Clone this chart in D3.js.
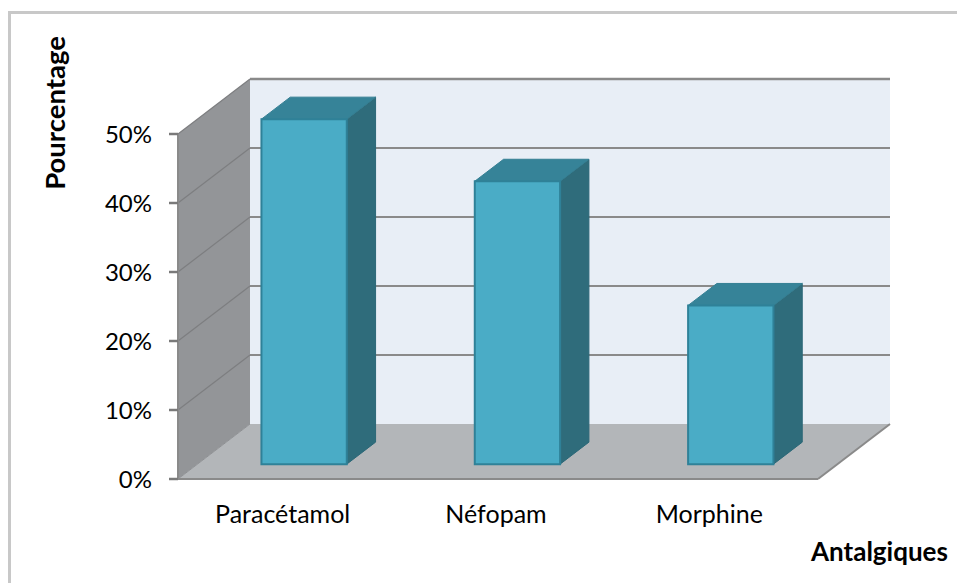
<!DOCTYPE html>
<html>
<head>
<meta charset="utf-8">
<script src="https://cdn.jsdelivr.net/npm/d3@7"></script>
<style>
  html, body { margin: 0; padding: 0; background: #fff; }
  svg { display: block; }
  text { font-family: Lato, "Open Sans", sans-serif; fill: #000; }
</style>
</head>
<body>
<svg id="chart" width="957" height="583"></svg>
<script>
// Analgesics used, share of patients (%)
const categories = ["Paracétamol", "Néfopam", "Morphine"];
const values = [50, 41, 23];
const yTicks = [0, 10, 20, 30, 40, 50];
const xTitle = "Antalgiques";
const yTitle = "Pourcentage";

const svg = d3.select("#chart");

// front plane of the 3D box and the depth offset of the back plane
const front = { left: 178, right: 818, bottom: 479, top: 134 };
const DX = 72, DY = 55;
const barZ0 = 0.27, barZ1 = 0.67;

const x = d3.scaleBand()
  .domain(categories)
  .range([front.left, front.right])
  .paddingInner(0.6)
  .paddingOuter(0.3);

const y = d3.scaleLinear()
  .domain([0, 50])
  .range([front.bottom, front.top]);

// oblique projection: front-plane x, data value, depth z in [0,1]
const P = (px, v, z) => [px + z * DX, y(v) - z * DY];
const poly = pts => "M" + pts.map(p => p.join(",")).join("L") + "Z";

const vmax = y.domain()[1];

// outer frame
svg.append("rect")
  .attr("x", 9.5).attr("y", 12.5)
  .attr("width", 1000).attr("height", 1000)
  .attr("fill", "none")
  .attr("stroke", "#c8c8c8")
  .attr("stroke-width", 3);

// back wall
svg.append("path")
  .attr("d", poly([P(front.left, 0, 1), P(front.right, 0, 1), P(front.right, vmax, 1), P(front.left, vmax, 1)]))
  .attr("fill", "#e8eef6");

// side wall
svg.append("path")
  .attr("d", poly([P(front.left, 0, 0), P(front.left, 0, 1), P(front.left, vmax, 1), P(front.left, vmax, 0)]))
  .attr("fill", "#939598");

// floor
svg.append("path")
  .attr("d", poly([P(front.left, 0, 0), P(front.right, 0, 0), P(front.right, 0, 1), P(front.left, 0, 1)]))
  .attr("fill", "#b3b6b9");

// gridlines on the back wall and the side wall
const grid = svg.append("g");
yTicks.filter(v => v > 0).forEach(v => {
  const a = P(front.left, v, 1), b = P(front.right, v, 1), c = P(front.left, v, 0);
  grid.append("line")
    .attr("x1", a[0]).attr("y1", a[1]).attr("x2", b[0]).attr("y2", b[1])
    .attr("stroke", "#8a8a8a").attr("stroke-width", v === vmax ? 2.5 : 2);
  grid.append("line")
    .attr("x1", c[0]).attr("y1", c[1]).attr("x2", a[0]).attr("y2", a[1])
    .attr("stroke", "#7d7e80").attr("stroke-width", 1.2);
});

// floor edges
{
  const a = P(front.left, 0, 0), b = P(front.right, 0, 0), c = P(front.right, 0, 1), d = P(front.left, 0, 1);
  grid.append("line").attr("x1", b[0]).attr("y1", b[1]).attr("x2", c[0]).attr("y2", c[1])
    .attr("stroke", "#8a8a8a").attr("stroke-width", 2);
  grid.append("line").attr("x1", a[0]).attr("y1", a[1]).attr("x2", d[0]).attr("y2", d[1])
    .attr("stroke", "#8f9194").attr("stroke-width", 1);
}

// bars
const bars = svg.append("g").selectAll("g")
  .data(categories.map((c, i) => ({ c, v: values[i] })))
  .join("g");

bars.append("path") // right side
  .attr("d", d => {
    const x1 = x(d.c) + x.bandwidth();
    return poly([P(x1, 0, barZ0), P(x1, d.v, barZ0), P(x1, d.v, barZ1), P(x1, 0, barZ1)]);
  })
  .attr("fill", "#2f6c7b")
  .attr("stroke", "#2c6878").attr("stroke-width", 1);

bars.append("path") // top
  .attr("d", d => {
    const x0 = x(d.c), x1 = x0 + x.bandwidth();
    return poly([P(x0, d.v, barZ0), P(x1, d.v, barZ0), P(x1, d.v, barZ1), P(x0, d.v, barZ1)]);
  })
  .attr("fill", "#368398")
  .attr("stroke", "#347f93").attr("stroke-width", 1);

bars.append("path") // front
  .attr("d", d => {
    const x0 = x(d.c), x1 = x0 + x.bandwidth();
    return poly([P(x0, 0, barZ0), P(x1, 0, barZ0), P(x1, d.v, barZ0), P(x0, d.v, barZ0)]);
  })
  .attr("fill", "#4aacc6")
  .attr("stroke", "#2f8198").attr("stroke-width", 2);

// value axis
const axis = svg.append("g");
axis.append("line")
  .attr("x1", front.left).attr("y1", y(0)).attr("x2", front.left).attr("y2", y(vmax))
  .attr("stroke", "#8a8a8a").attr("stroke-width", 2);
axis.append("line")
  .attr("x1", front.left - 8).attr("y1", y(0)).attr("x2", front.right).attr("y2", y(0))
  .attr("stroke", "#8a8a8a").attr("stroke-width", 2);
axis.selectAll(".tick").data(yTicks).join("line")
  .attr("x1", front.left - 9).attr("x2", front.left)
  .attr("y1", d => y(d)).attr("y2", d => y(d))
  .attr("stroke", "#7a7a7a").attr("stroke-width", 2.5);
axis.selectAll(".lbl").data(yTicks).join("text")
  .attr("x", 152).attr("y", d => y(d) + 8.5)
  .attr("text-anchor", "end")
  .attr("font-size", 24)
  .text(d => d + "%");

// category labels
svg.append("g").selectAll("text").data(categories).join("text")
  .attr("x", d => x(d) + x.bandwidth() / 2 - 2)
  .attr("y", 523)
  .attr("text-anchor", "middle")
  .attr("font-size", 25)
  .text(d => d);

// axis titles
svg.append("text")
  .attr("x", 811).attr("y", 561)
  .attr("font-size", 26).attr("font-weight", "bold")
  .text(xTitle);
svg.append("text")
  .attr("transform", "translate(65,113) rotate(-90)")
  .attr("text-anchor", "middle")
  .attr("font-size", 27.5).attr("font-weight", "bold")
  .text(yTitle);
</script>
</body>
</html>
